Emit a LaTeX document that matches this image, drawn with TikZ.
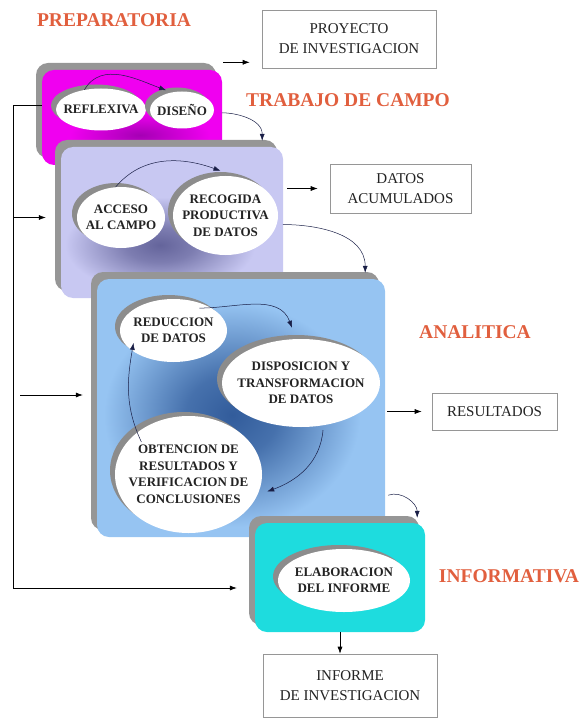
\documentclass[tikz,border=0pt]{standalone}
\usepackage{fontspec}
\setmainfont{Liberation Serif}
\usetikzlibrary{arrows.meta,calc,shapes.geometric,shadows,positioning}

\definecolor{shadowgray}{RGB}{150,150,150}
\definecolor{ringgray}{RGB}{140,140,140}
\definecolor{prepmag}{RGB}{240,0,240}
\definecolor{prepdark}{RGB}{165,0,180}
\definecolor{campolav}{RGB}{200,200,242}
\definecolor{campodark}{RGB}{100,100,155}
\definecolor{analblue}{RGB}{150,196,242}
\definecolor{analdark}{RGB}{50,92,155}
\definecolor{infocyan}{RGB}{30,220,222}
\definecolor{phasered}{RGB}{225,95,62}
\definecolor{boxgray}{RGB}{150,150,150}
\definecolor{boxtext}{RGB}{35,35,35}
\definecolor{stagetext}{RGB}{35,35,35}
\definecolor{curveblue}{RGB}{25,30,70}

\pgfdeclareradialshading{analglow}{\pgfpoint{0bp}{0bp}}{%
  color(0bp)=(analdark); color(9bp)=(analdark!80!analblue);
  color(25bp)=(analblue); color(50bp)=(analblue)}
\pgfdeclareradialshading{campoglow}{\pgfpoint{0bp}{0bp}}{%
  color(0bp)=(campodark); color(9bp)=(campodark!75!campolav);
  color(25bp)=(campolav); color(50bp)=(campolav)}

\tikzset{
  phasebox/.style={rectangle,rounded corners=12pt,inner sep=0pt,
    drop shadow={shadow xshift=-6pt,shadow yshift=7pt,fill=shadowgray,opacity=1}},
  stagenode/.style={ellipse,fill=white,inner sep=0pt,
    drop shadow={shadow xshift=-5pt,shadow yshift=4pt,fill=ringgray,opacity=1}},
  stagetxt/.style={align=center,text=stagetext,inner sep=0pt,
    font=\fontsize{13}{16.5}\selectfont\bfseries},
  outbox/.style={draw=boxgray,line width=0.6pt,fill=white,align=center,inner sep=0pt,
    text=boxtext,font=\fontsize{15}{20}\selectfont},
  phaselabel/.style={text=phasered,font=\fontsize{19.5}{22}\selectfont\bfseries},
  arr/.style={-{Latex[length=7pt,width=5pt]},line width=0.6pt},
  curvearr/.style={arr,draw=curveblue,line width=0.5pt},
}

\begin{document}
\begin{tikzpicture}[x=1pt,y=-1pt]
  \useasboundingbox (0,0) rectangle (582,719);

  % preparatoria
  \node[phasebox,fill=prepmag,minimum width=180pt,minimum height=95pt] (prep) at (132,117.5) {};
  \shade[inner color=prepdark,outer color=prepmag] (140,135) ellipse (70 and 22);
  \node[stagenode,minimum width=90pt,minimum height=42pt,
        label={[stagetxt]center:REFLEXIVA}] (reflexiva) at (101,109.5) {};
  \node[stagenode,minimum width=64pt,minimum height=37pt,
        label={[stagetxt]center:DISEÑO}] (diseno) at (182,110) {};

  % trabajo de campo
  \node[phasebox,fill=campolav,minimum width=222pt,minimum height=151pt] (trabajo) at (172,222.5) {};
  \shade[shading=campoglow] (160,245) ellipse (95 and 48);
  \node[stagenode,minimum width=88pt,minimum height=61pt,
        label={[stagetxt]center:ACCESO\\AL CAMPO}] (acceso) at (121,217.5) {};
  \node[stagenode,minimum width=105pt,minimum height=79pt,
        label={[stagetxt]center:RECOGIDA\\PRODUCTIVA\\DE DATOS}] (recogida) at (225.5,215.5) {};

  % analitica
  \node[phasebox,fill=analblue,minimum width=288pt,minimum height=258pt] (analitica) at (241,408) {};
  \shade[shading=analglow] (232,415) ellipse (128 and 112);
  \node[stagenode,minimum width=107pt,minimum height=63pt,
        label={[stagetxt]center:REDUCCION\\DE DATOS}] (reduccion) at (173.5,330.5) {};
  \node[stagenode,minimum width=158pt,minimum height=88pt,
        label={[stagetxt]center:DISPOSICION Y\\TRANSFORMACION\\DE DATOS}] (disposicion) at (301,383) {};
  \node[stagenode,minimum width=147pt,minimum height=117pt,
        label={[stagetxt]center:OBTENCION DE\\RESULTADOS Y\\VERIFICACION DE\\CONCLUSIONES}] (obtencion) at (188.5,474.5) {};

  % informativa
  \node[phasebox,fill=infocyan,minimum width=170pt,minimum height=109pt] (informativa) at (340,577.5) {};
  \node[stagenode,minimum width=132pt,minimum height=63pt,
        label={[stagetxt]center:ELABORACION\\DEL INFORME}] (elaboracion) at (344,580.5) {};

  % productos
  \node[outbox,minimum width=174pt,minimum height=58pt] (proyecto) at (349,39) {PROYECTO\\DE INVESTIGACION};
  \node[outbox,minimum width=141pt,minimum height=49pt] (datos) at (400.5,188.5) {DATOS\\ACUMULADOS};
  \node[outbox,minimum width=125pt,minimum height=37pt] (resultados) at (494.5,411.5) {RESULTADOS};
  \node[outbox,minimum width=174pt,minimum height=63pt] (informe) at (350,685.5) {INFORME\\DE INVESTIGACION};

  % fases
  \node[phaselabel] (lprep) at (114,20)  {PREPARATORIA};
  \node[phaselabel] (lcampo) at (348,100) {TRABAJO DE CAMPO};
  \node[phaselabel] (lanal) at (475,332) {ANALITICA};
  \node[phaselabel] (linfo) at (509,576) {INFORMATIVA};

  % flechas curvas
  \draw[curvearr,shorten >=6pt] (reflexiva.130) to[out=60,in=160] (diseno.120);
  \draw[curvearr,shorten <=8pt] (diseno.-5) to[out=0,in=90] ($(trabajo.north east)+(-21,-6)$);
  \draw[curvearr] (acceso.100) to[out=50,in=160] ($(recogida.north)+(-5,-5)$);
  \draw[curvearr,shorten <=6pt] (recogida.-10) to[out=0,in=90] ($(analitica.north east)+(-20,-6)$);
  \draw[curvearr] ($(reduccion.north east)+(-12,0)$) to[out=0,in=110] ($(disposicion.north)+(-9,-11)$);
  \draw[curvearr] ($(disposicion.south)+(22,3)$) to[out=-95,in=20] ($(obtencion.east)+(5,17)$);
  \draw[curvearr] ($(obtencion.north west)+(5,9)$) to[out=115,in=-100] ($(reduccion.south west)+(-2,-10)$);
  \draw[curvearr] ($(analitica.south east)+(3,-42)$) to[out=20,in=90] ($(informativa.north east)+(-8,-5)$);

  % flechas rectas
  \coordinate (py) at ($(proyecto.south west)+(0,-6)$);
  \draw[arr,shorten <=1pt,shorten >=12pt] (prep.east |- py) -- (py);
  \draw[arr,shorten <=4pt,shorten >=12pt] (trabajo.east |- datos.west) -- (datos.west);
  \draw[arr,shorten <=2pt,shorten >=10pt] (analitica.east |- resultados.west) -- (resultados.west);
  \draw[arr] (informativa.south) -- (informativa.south |- informe.north);

  % retroalimentacion
  \coordinate (fbtop) at (13,105);
  \coordinate (fbmid) at (13,395);
  \coordinate (fbbot) at (13,588);
  \draw[line width=0.6pt] (prep.west |- fbtop) -- (fbtop) -- (fbbot);
  \draw[arr,shorten >=15pt] (fbtop |- acceso) -- (trabajo.west |- acceso);
  \draw[arr,shorten <=7pt,shorten >=14pt] (fbmid) -- (fbmid -| analitica.west);
  \draw[arr,shorten >=18pt] (fbbot) -- (fbbot -| informativa.west);
\end{tikzpicture}
\end{document}
